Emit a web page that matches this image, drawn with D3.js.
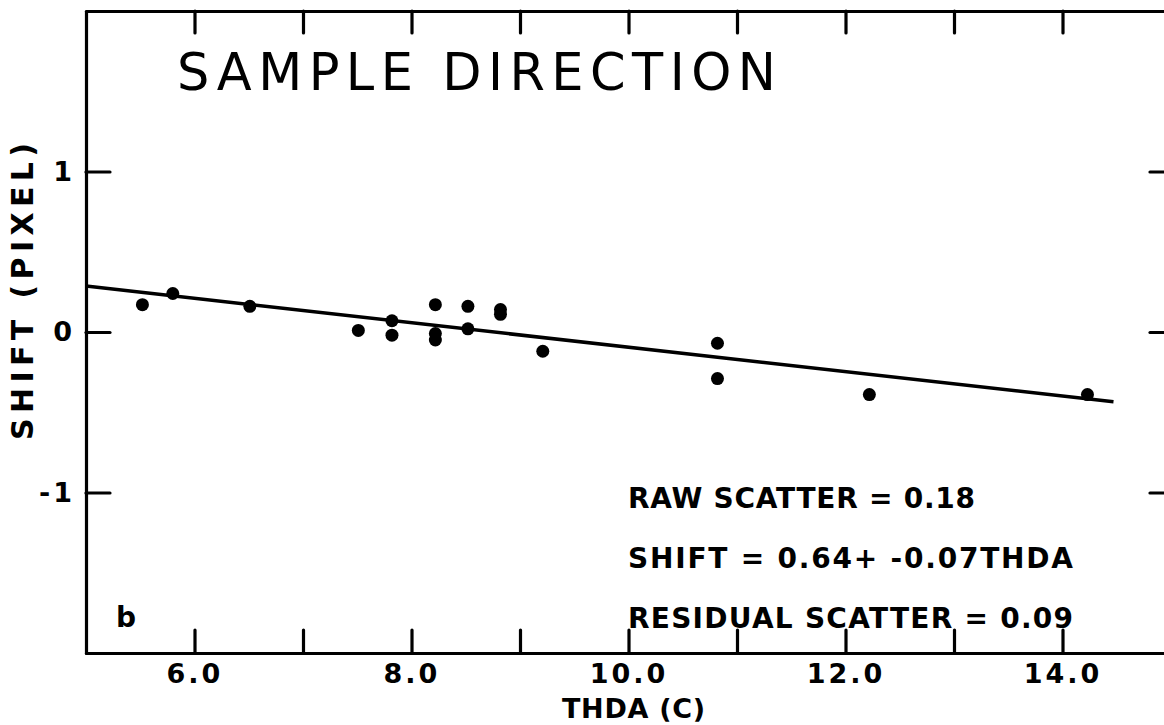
<!DOCTYPE html>
<html>
<head>
<meta charset="utf-8">
<script src="https://cdn.jsdelivr.net/npm/d3@7"></script>
<style>
	html, body { margin: 0; padding: 0; background: #fff; }
	svg { display: block; }
	.lbl { font-family: "DejaVu Sans", sans-serif; font-weight: bold; fill: #000; }
</style>
</head>
<body>
<svg width="1164" height="725"></svg>
<script>
// measured values
const thda = [5.52, 5.80, 6.51, 7.51, 7.82, 7.82, 8.22, 8.22, 8.22, 8.52, 8.52, 8.82, 8.82, 9.21, 10.82, 10.82, 12.22, 14.23];
const shift = [0.17, 0.24, 0.16, 0.01, 0.07, -0.02, 0.17, -0.01, -0.05, 0.16, 0.02, 0.14, 0.11, -0.12, -0.07, -0.29, -0.39, -0.39];

// fitted line, as drawn
const fitX = [5.0, 14.47];
const fitY = [0.286, -0.435];

const xTicks = [6, 7, 8, 9, 10, 11, 12, 13, 14];
const xLabelled = [6, 8, 10, 12, 14];
const yTicks = [-1, 0, 1];

const notes = ["RAW SCATTER = 0.18", "SHIFT = 0.64+ -0.07THDA", "RESIDUAL SCATTER = 0.09"];

let margin = { "top": 11, "right": -7, "bottom": 72, "left": 86 };
let width = 1164 - margin.left - margin.right;
let height = 725 - margin.top - margin.bottom;

let scaleX = d3.scaleLinear().domain([5, 15]).range([margin.left, margin.left + width]);
let scaleY = d3.scaleLinear().domain([-2, 2]).range([margin.top + height, margin.top]);

let svg = d3.select("svg");

let styleAxis = g => {
	g.selectAll("path, line").attr("stroke", "#000").attr("stroke-width", 3.2).attr("stroke-linecap", "round");
	g.selectAll("text").attr("class", "lbl").attr("font-size", 27).attr("fill", "#000").attr("letter-spacing", 3);
};

// bottom axis
svg.append("g")
	.attr("transform", "translate(0," + scaleY(-2) + ")")
	.call(d3.axisBottom(scaleX).tickValues(xTicks).tickSize(-23).tickSizeOuter(0).tickPadding(11)
		.tickFormat(d => xLabelled.includes(d) ? d3.format(".1f")(d) : ""))
	.call(styleAxis);

// top axis
svg.append("g")
	.attr("transform", "translate(0," + scaleY(2) + ")")
	.call(d3.axisTop(scaleX).tickValues(xTicks).tickSize(-22).tickSizeOuter(0).tickFormat(""))
	.call(styleAxis);

// left axis
svg.append("g")
	.attr("transform", "translate(" + scaleX(5) + ",0)")
	.call(d3.axisLeft(scaleY).tickValues(yTicks).tickSize(-24).tickSizeOuter(0).tickPadding(11)
		.tickFormat(d => String(d)))
	.call(styleAxis);

// right axis
svg.append("g")
	.attr("transform", "translate(" + scaleX(15) + ",0)")
	.call(d3.axisRight(scaleY).tickValues(yTicks).tickSize(-21).tickSizeOuter(0).tickFormat(""))
	.call(styleAxis);

// fit line
svg.append("path")
	.datum(d3.zip(fitX, fitY))
	.attr("fill", "none")
	.attr("stroke", "#000")
	.attr("stroke-width", 3.5)
	.attr("d", d3.line().x(d => scaleX(d[0])).y(d => scaleY(d[1])));

// points
svg.append("g")
	.selectAll("circle")
	.data(d3.zip(thda, shift))
	.join("circle")
	.attr("cx", d => scaleX(d[0]))
	.attr("cy", d => scaleY(d[1]))
	.attr("r", 6.5)
	.attr("fill", "#000");

// title
svg.append("text")
	.attr("x", 177).attr("y", 90)
	.attr("font-family", "DejaVu Sans, sans-serif")
	.attr("font-size", 51)
	.attr("textLength", 599)
	.attr("lengthAdjust", "spacing")
	.text("SAMPLE DIRECTION");

// axis titles
svg.append("text")
	.attr("class", "lbl")
	.attr("x", 562).attr("y", 718)
	.attr("font-size", 27)
	.attr("textLength", 143)
	.attr("lengthAdjust", "spacing")
	.text("THDA (C)");

svg.append("text")
	.attr("class", "lbl")
	.attr("transform", "translate(33,440) rotate(-90)")
	.attr("font-size", 30)
	.attr("textLength", 297)
	.attr("lengthAdjust", "spacing")
	.text("SHIFT (PIXEL)");

// annotation
let noteWidths = [347, 445, 445];
svg.append("g")
	.selectAll("text")
	.data(notes)
	.join("text")
	.attr("class", "lbl")
	.attr("x", 628)
	.attr("y", (d, i) => 508 + i * 60)
	.attr("font-size", 28)
	.attr("textLength", (d, i) => noteWidths[i])
	.attr("lengthAdjust", "spacing")
	.text(d => d);

svg.append("text")
	.attr("class", "lbl")
	.attr("x", 116).attr("y", 627)
	.attr("font-size", 28)
	.text("b");
</script>
</body>
</html>
